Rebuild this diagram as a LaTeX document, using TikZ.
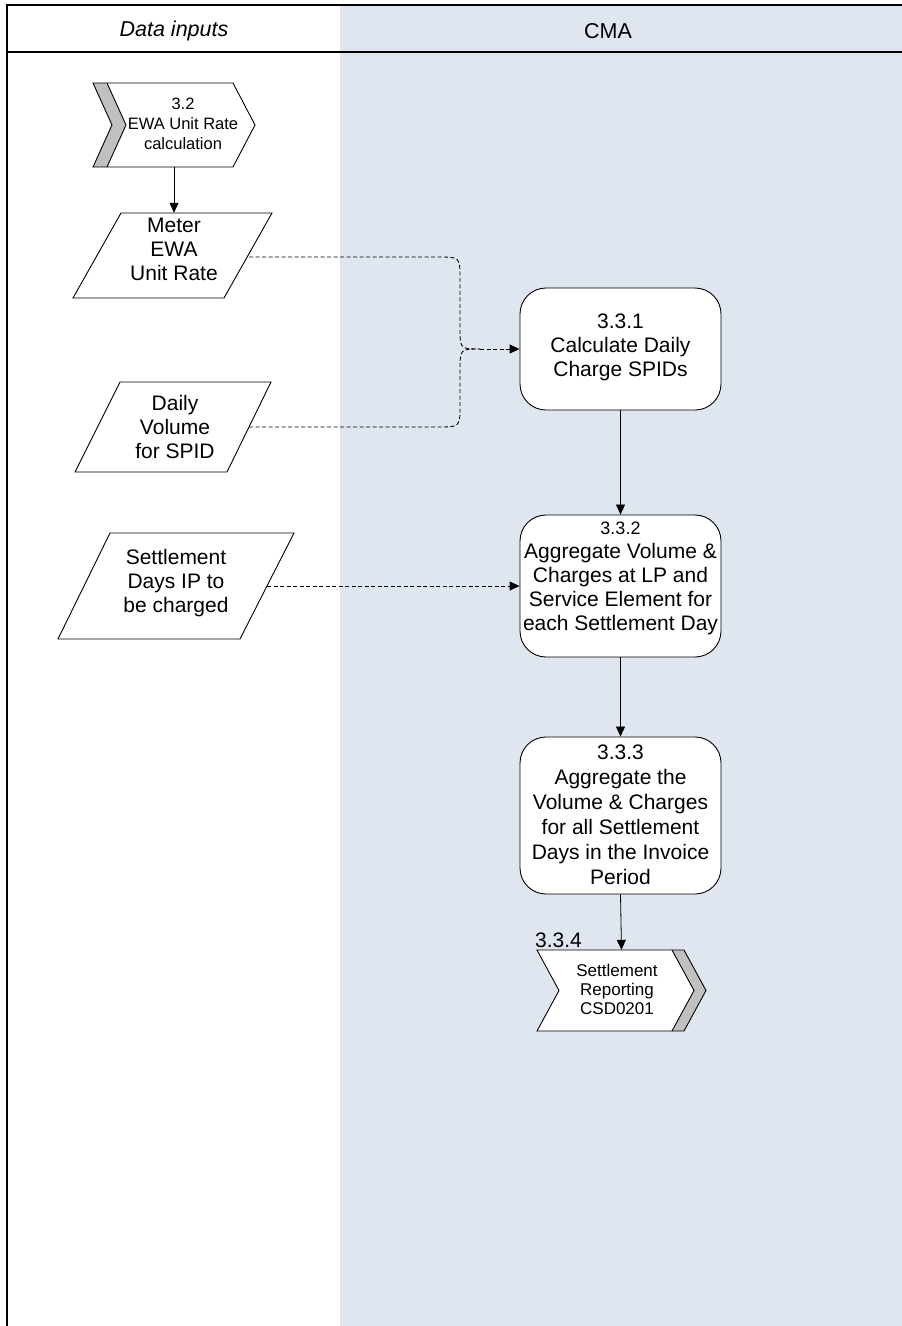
\documentclass[tikz,border=0pt]{standalone}
\usepackage{fontspec}
\setmainfont{Liberation Sans}
\usetikzlibrary{arrows.meta}
\definecolor{lanebg}{RGB}{223,230,240}
\definecolor{bandgray}{RGB}{192,192,192}
\begin{document}
\begin{tikzpicture}[x=1pt,y=-1pt,
  frameline/.style={line width=1.6pt,black},
  shapeline/.style={draw=black,line width=0.9pt},
  procbox/.style={shapeline,fill=white,rounded corners=26pt,minimum width=201pt,inner sep=0pt},
  boxtext/.style={align=center,font=\fontsize{21}{24}\selectfont,inner sep=0pt},
  smalltext/.style={align=center,font=\fontsize{16.5}{20}\selectfont,inner sep=0pt},
  hdrtext/.style={font=\fontsize{21.5}{24}\selectfont,inner sep=0pt},
  bbox/.style={draw=none,inner sep=0pt},
  arr/.style={line width=0.8pt,-{Triangle[length=10pt,width=9pt]}},
  dashline/.style={line width=0.9pt,dash pattern=on 4pt off 2.5pt,black}
]
\useasboundingbox (0,0) rectangle (902,1326);
% lane background
\fill[lanebg] (340,5) rectangle (902,1326);
% frame
\draw[frameline] (7,1326) -- (7,5) -- (902,5);
\draw[frameline] (7,52) -- (902,52);
\node[hdrtext,font=\itshape\fontsize{21.5}{24}\selectfont] (hdrA) at (174,31) {Data inputs};
\node[hdrtext] (hdrB) at (608,31) {CMA};

% chevron 3.2
\fill[white] (93,83) -- (233,83) -- (255,125) -- (233,167) -- (93,167) -- (112,125) -- cycle;
\fill[bandgray] (93,83) -- (107,83) -- (126,125) -- (107,167) -- (93,167) -- (112,125) -- cycle;
\draw[shapeline] (93,83) -- (233,83) -- (255,125) -- (233,167) -- (93,167) -- (112,125) -- cycle;
\draw[shapeline] (107,83) -- (126,125) -- (107,167);
\node[bbox,minimum width=162pt,minimum height=84pt] (chev32) at (174,125) {};
\node[smalltext] (chev32t) at (183,124) {3.2\\EWA Unit Rate\\calculation};

% parallelogram Meter EWA Unit Rate
\draw[shapeline,fill=white] (73,298) -- (121,213) -- (272,213) -- (224,298) -- cycle;
\node[bbox,minimum width=150pt,minimum height=85pt] (meter) at (174,255.5) {};
\node[boxtext] (metert) at (174,249) {Meter\\EWA\\Unit Rate};
\coordinate (meterR) at (249,257);

% parallelogram Daily Volume for SPID
\draw[shapeline,fill=white] (75,472) -- (120,382) -- (271,382) -- (227,472) -- cycle;
\node[bbox,minimum width=150pt,minimum height=90pt] (daily) at (173,427) {};
\node[boxtext] (dailyt) at (175,427) {Daily\\Volume\\for SPID};
\coordinate (dailyR) at (249,427);

% parallelogram Settlement Days IP to be charged
\draw[shapeline,fill=white] (58,639) -- (110,533) -- (294,533) -- (240,639) -- cycle;
\node[bbox,minimum width=184pt,minimum height=106pt] (sdays) at (176,586) {};
\node[boxtext] (sdayst) at (176,583) {Settlement\\Days IP to\\be charged};
\coordinate (sdaysR) at (267,586);

% process boxes
\node[procbox,minimum height=122pt] (b331) at (620.5,349) {};
\node[boxtext] (b331t) at (620.5,347) {3.3.1\\Calculate Daily\\Charge SPIDs};

\node[procbox,minimum height=142pt] (b332) at (620.5,586) {};
\node[boxtext] (b332t) at (620.5,578) {{\fontsize{18}{24}\selectfont 3.3.2}\\Aggregate Volume \&\\Charges at LP and\\Service Element for\\each Settlement Day};

\node[procbox,minimum height=157pt] (b333) at (620.5,815.5) {};
\node[boxtext,font=\fontsize{21}{25}\selectfont] (b333t) at (620.5,815) {3.3.3\\Aggregate the\\Volume \& Charges\\for all Settlement\\Days in the Invoice\\Period};

% chevron 3.3.4
\fill[white] (537,950) -- (672,950) -- (694,990.5) -- (672,1031) -- (537,1031) -- (559,990.5) -- cycle;
\fill[bandgray] (672,950) -- (684,950) -- (706,990.5) -- (684,1031) -- (672,1031) -- (694,990.5) -- cycle;
\draw[shapeline] (537,950) -- (684,950) -- (706,990.5) -- (684,1031) -- (537,1031) -- (559,990.5) -- cycle;
\draw[shapeline] (672,950) -- (694,990.5) -- (672,1031);
\node[bbox,minimum width=169pt,minimum height=81pt] (chev334) at (621.5,990.5) {};
\node[smalltext,font=\fontsize{17}{19}\selectfont] (chev334t) at (617,989.5) {Settlement\\Reporting\\CSD0201};
\node[boxtext,anchor=base west] (lbl334) at (535,947) {3.3.4};

% connectors
\draw[arr] (chev32.south) -- (meter.north);
\coordinate (merge) at (480,349);
\draw[dashline] (meterR) -- (438,257) .. controls (460,257) .. (460,279) -- (460,327) .. controls (460,349) .. (merge);
\draw[dashline] (dailyR) -- (438,427) .. controls (460,427) .. (460,405) -- (460,371) .. controls (460,349) .. (merge);
\draw[dashline,-{Triangle[length=10pt,width=9pt]}] (merge) -- (b331.west);
\draw[dashline,-{Triangle[length=10pt,width=9pt]}] (sdaysR) -- (b332.west);
\draw[arr] (b331.south) -- (b332.north);
\draw[arr] (b332.south) -- (b333.north);
\draw[arr] (b333.south) -- (chev334.north);
\end{tikzpicture}
\end{document}
